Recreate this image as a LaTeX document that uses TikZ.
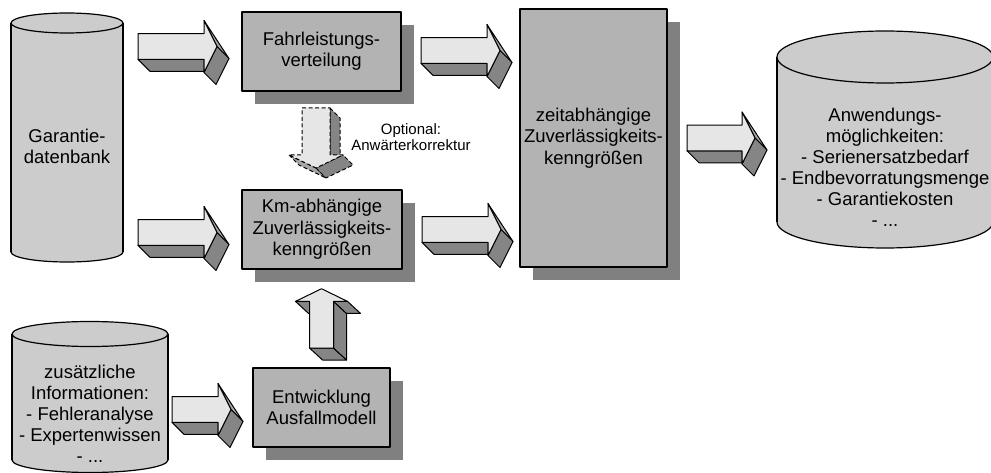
\documentclass[tikz,border=0pt]{standalone}
\usepackage{fontspec}
\setmainfont{Liberation Sans}
\usetikzlibrary{calc,shadows}
\definecolor{box-gray}{HTML}{B3B3B3}
\definecolor{shadow-gray}{HTML}{808080}
\definecolor{cyl-gray}{HTML}{CCCCCC}
\definecolor{arrow-light}{HTML}{E6E6E6}
\definecolor{arrow-mid}{HTML}{A6A6A6}
\definecolor{arrow-dark}{HTML}{858585}

% cylinder: left x, right x, top y, bottom y, ellipse radius
\newcommand{\datacyl}[5]{%
  \filldraw[fill=cyl-gray, line width=1.2pt] ({(#1+#2)/2},#4) ellipse [x radius={(#2-#1)/2}, y radius=#5];
  \fill[cyl-gray] (#1,#3) rectangle (#2,#4);
  \draw[line width=1.2pt] (#1,#3) -- (#1,#4) (#2,#3) -- (#2,#4);
  \filldraw[fill=cyl-gray, line width=1.2pt] ({(#1+#2)/2},#3) ellipse [x radius={(#2-#1)/2}, y radius=#5];
}

\tikzset{
  procbox/.style={draw, line width=1.3pt, fill=box-gray, align=center,
    inner sep=0pt, outer sep=0pt, font=\fontsize{18.5}{21.3}\selectfont,
    drop shadow={shadow xshift=13pt, shadow yshift=-13pt,
      fill=shadow-gray, opacity=1}},
  cyltext/.style={align=center, inner sep=0pt, font=\fontsize{18.5}{21}\selectfont},
  pics/rblock/.style={code={
    \filldraw[fill=arrow-dark] (0,12.8) -- (12,24.8) -- (#1,24.8) -- (#1,12.8) -- cycle;
    \filldraw[fill=arrow-mid] (#1,-26) -- (#1+25,12) -- (#1+13,0) -- cycle;
    \filldraw[fill=arrow-dark] (#1,26) -- (#1+13,0) -- (#1+25,12) -- (#1+12,38) -- cycle;
    \filldraw[fill=arrow-light] (0,-12.8) -- (#1,-12.8) -- (#1,-26) -- (#1+13,0)
      -- (#1,26) -- (#1,12.8) -- (0,12.8) -- cycle;
  }},
  pics/ublock/.style={code={
    \filldraw[fill=arrow-dark] (-12,0) -- (12,0) -- (25,12) -- (1,12) -- cycle;
    \filldraw[fill=arrow-dark] (12,0) -- (12,-46.6) -- (25,-34.6) -- (25,12) -- cycle;
    \filldraw[fill=arrow-dark] (12,-46.6) -- (26,-46.6) -- (39,-34.6) -- (25,-34.6) -- cycle;
    \filldraw[fill=arrow-dark] (-26,-46.6) -- (-12,-46.6) -- (1,-34.6) -- (-13,-34.6) -- cycle;
    \filldraw[fill=arrow-light] (-12,0) -- (-12,-46.6) -- (-26,-46.6) -- (0,-59.3)
      -- (26,-46.6) -- (12,-46.6) -- (12,0) -- cycle;
  }},
  pics/dblock/.style={code={
    \begin{scope}[dashed, dash pattern=on 4pt off 2.5pt]
    \filldraw[fill=arrow-dark] (14,0) -- (24,10) -- (24,57) -- (14,47) -- cycle;
    \filldraw[fill=arrow-mid] (-27,47) -- (0,60) -- (10,70) -- (-17,57) -- cycle;
    \filldraw[fill=arrow-dark] (0,60) -- (27,47) -- (37,57) -- (10,70) -- cycle;
    \filldraw[fill=arrow-light] (-14,0) -- (14,0) -- (14,47) -- (27,47) -- (0,60)
      -- (-27,47) -- (-14,47) -- cycle;
    \end{scope}
  }},
}

\begin{document}
\begin{tikzpicture}[x=1pt, y=-1pt, line width=1pt, line join=round]
  \useasboundingbox (0,0) rectangle (991,473);
  \clip (0,0) rectangle (991,473);

  % data sources and results
  \datacyl{11}{123}{23}{252}{10}
  \node[cyltext] (Garantie) at (67,146) {Garantie-\\datenbank};
  \datacyl{12}{168}{334}{460}{12.5}
  \node[cyltext] (Info) at (90,414) {zusätzliche\\Informationen:\\- Fehleranalyse\\- Expertenwissen\\- ...};
  \datacyl{777}{993}{57}{222}{26}
  \node[cyltext] (Anw) at (885,167) {Anwendungs-\\möglichkeiten:\\- Serienersatzbedarf\\- Endbevorratungsmenge\\- Garantiekosten\\- ...};

  % process boxes
  \node[procbox, minimum width=159, minimum height=79] (Fahr) at (321.5,51.5) {Fahrleistungs-\\verteilung};
  \node[procbox, minimum width=160, minimum height=79] (Km) at (322,229.5) {Km-abhängige\\Zuverlässigkeits-\\kenngrößen};
  \node[procbox, minimum width=137, minimum height=79] (Entw) at (321.5,407.5) {Entwicklung\\Ausfallmodell};
  \node[procbox, minimum width=147, minimum height=258] (Zeit) at (593.5,138) {zeitabhängige\\Zuverlässigkeits-\\kenngrößen};

  % block arrows
  \pic at ($(Fahr.west)+(-104,-5)$) {rblock=66};
  \pic at ($(Km.west)+(-104,3)$) {rblock=66};
  \pic at ($(Fahr.east)+(20,-1)$) {rblock=66};
  \pic at ($(Km.east)+(20,0)$) {rblock=66};
  \pic at ($(Zeit.east)+(20,0)$) {rblock=55};
  \pic at ($(Entw.west)+(-81,2)$) {rblock=46};
  \pic at ($(Entw.north)+(0,-20)$) {ublock};
  \pic at ($(Fahr.south)+(-5.5,17)$) {dblock};
  \node[align=center, inner sep=0pt, font=\fontsize{15}{16.7}\selectfont]
    (Opt) at (411,137) {Optional:\\Anwärterkorrektur};
\end{tikzpicture}
\end{document}
